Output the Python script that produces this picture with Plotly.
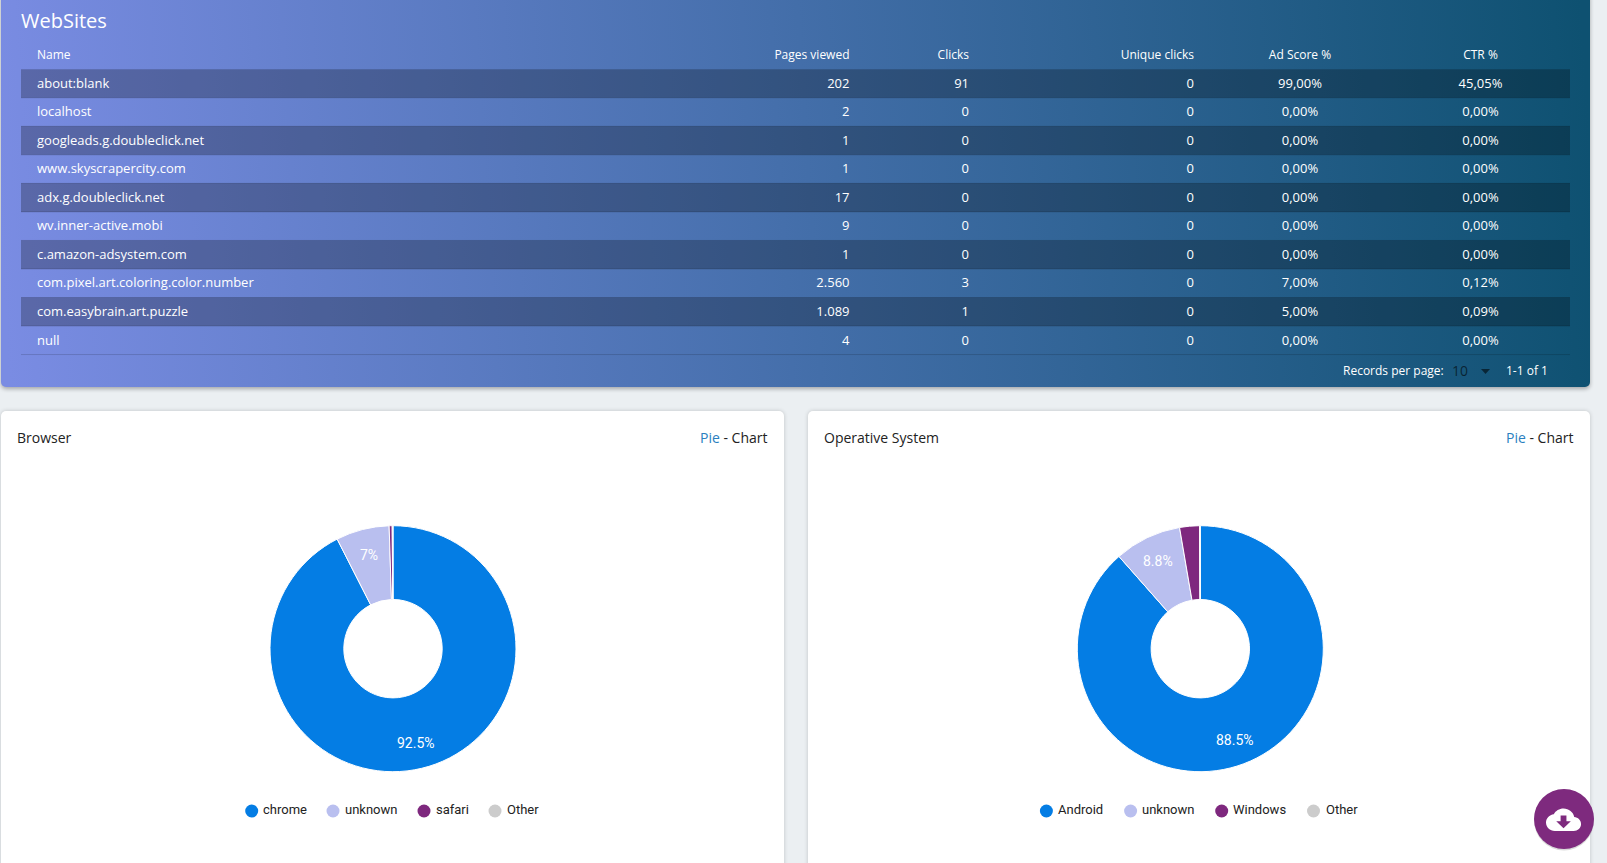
import base64
import math
import re
import plotly.graph_objects as go

# table data
site_names = ["about:blank", "localhost", "googleads.g.doubleclick.net", "www.skyscrapercity.com",
              "adx.g.doubleclick.net", "wv.inner-active.mobi", "c.amazon-adsystem.com",
              "com.pixel.art.coloring.color.number", "com.easybrain.art.puzzle", "null"]
pages_viewed = ["202", "2", "1", "1", "17", "9", "1", "2.560", "1.089", "4"]
clicks = ["91", "0", "0", "0", "0", "0", "0", "3", "1", "0"]
unique_clicks = ["0", "0", "0", "0", "0", "0", "0", "0", "0", "0"]
ad_score = ["99,00%", "0,00%", "0,00%", "0,00%", "0,00%", "0,00%", "0,00%", "7,00%", "5,00%", "0,00%"]
ctr = ["45,05%", "0,00%", "0,00%", "0,00%", "0,00%", "0,00%", "0,00%", "0,12%", "0,09%", "0,00%"]

# pie data
browser_labels = ["chrome", "unknown", "safari", "Other"]
browser_values = [92.5, 7, 0.4, 0.1]
os_labels = ["Android", "unknown", "Windows", "Other"]
os_values = [88.5, 8.8, 2.6, 0.1]
pie_colors = ["#047de4", "#b9bfef", "#7e287e", "#cccccc"]

W, H = 1607, 863
FONT = "Open Sans"
LEGEND_FONT = "Roboto"


def backdrop():
    # page background, gradient panel and the two white cards, with soft shadows
    svg = f"""<svg xmlns="http://www.w3.org/2000/svg" width="{W}" height="{H}" viewBox="0 0 {W} {H}">
<defs>
<linearGradient id="g" gradientUnits="userSpaceOnUse" x1="0" y1="240" x2="1590" y2="140">
<stop offset="0" stop-color="#7a8ce3"/><stop offset="1" stop-color="#0e5171"/>
</linearGradient>
<filter id="s" x="-5%" y="-5%" width="110%" height="110%"><feGaussianBlur stdDeviation="2"/></filter>
</defs>
<rect width="{W}" height="{H}" fill="#ebeff2"/>
<rect x="1" y="-6" width="1589" height="395" rx="5" fill="#000" opacity="0.3" filter="url(#s)"/>
<rect x="1" y="-6" width="1589" height="393" rx="5" fill="url(#g)"/>
<rect x="1" y="411" width="783" height="470" rx="5" fill="#000" opacity="0.18" filter="url(#s)"/>
<rect x="808" y="411" width="782" height="470" rx="5" fill="#000" opacity="0.18" filter="url(#s)"/>
<rect x="1" y="411" width="783" height="470" rx="5" fill="#fff"/>
<rect x="808" y="411" width="782" height="470" rx="5" fill="#fff"/>
</svg>"""
    return "data:image/svg+xml;base64," + base64.b64encode(svg.encode()).decode()


def icon_path(d, x0, y0, sx, sy):
    # scale an absolute path written in icon units to page pixels
    nums = iter(re.findall(r"[A-Za-z]|-?[\d.]+", d))
    out = []
    for tok in nums:
        if tok.isalpha():
            out.append(tok)
        else:
            out.append(f"{x0 + float(tok) * sx:.2f},{y0 + float(next(nums)) * sy:.2f}")
    return " ".join(out)


def pie_domain(cx, cy, r):
    return dict(x=[(cx - r) / W, (cx + r) / W], y=[1 - (cy + r) / H, 1 - (cy - r) / H])


fig = go.Figure()

# table, one text trace per column, header first
row_top = 69.25
row_h = 28.53
header_y = 56
row_y = [row_top + row_h * (i + 0.5) + 1 for i in range(len(site_names))]

columns = [
    ("Name", site_names, 37, "middle right"),
    ("Pages viewed", pages_viewed, 849.5, "middle left"),
    ("Clicks", clicks, 969, "middle left"),
    ("Unique clicks", unique_clicks, 1194, "middle left"),
    ("Ad Score %", ad_score, 1300, "middle center"),
    ("CTR %", ctr, 1480.5, "middle center"),
]
for header, values, x, pos in columns:
    fig.add_trace(go.Scatter(
        x=[x] * (len(values) + 1), y=[header_y] + row_y, text=[header] + values,
        mode="text", textposition=pos, hoverinfo="skip", showlegend=False,
        textfont=dict(family=FONT, color="white", size=[12] + [13] * len(values)),
    ))

shapes = []
for i in range(len(site_names)):
    top = row_top + row_h * i
    if i % 2 == 0:
        shapes.append(dict(type="rect", x0=21, x1=1570, y0=top, y1=top + row_h, xref="x", yref="y",
                           fillcolor="rgba(0,0,0,0.25)", line_width=0, layer="below"))
    shapes.append(dict(type="line", x0=21, x1=1570, y0=top + row_h, y1=top + row_h, xref="x", yref="y",
                       line=dict(color="rgba(0,0,0,0.15)", width=1), layer="below"))

# pies
pie_r = 123
pie_cy = 648.7
pies = [
    (browser_labels, browser_values, 393, [251.7, 333, 424, 495], [263, 345, 436, 507]),
    (os_labels, os_values, 1200.3, [1046.4, 1130.6, 1221.7, 1313.5], [1058, 1142, 1233, 1326]),
]
annotations = []
for labels, values, cx, marker_x, text_x in pies:
    fig.add_trace(go.Pie(
        labels=labels, values=values, hole=0.4, sort=False, direction="clockwise", rotation=0,
        domain=pie_domain(cx, pie_cy, pie_r), textinfo="none", hoverinfo="skip", showlegend=False,
        marker=dict(colors=pie_colors, line=dict(color="white", width=1)),
    ))
    # percent labels sit at about 80% of the radius, only on slices that are big enough
    total = sum(values)
    done = 0
    for v in values:
        angle = 2 * math.pi * (done + v / 2) / total
        done += v
        if v >= 5:
            annotations.append(dict(
                x=cx + 0.79 * pie_r * math.sin(angle), y=pie_cy - 0.79 * pie_r * math.cos(angle),
                text=f"{v:g}%", showarrow=False, xref="x", yref="y",
                font=dict(family=LEGEND_FONT, size=14, color="white"),
            ))
    # legend with round markers
    fig.add_trace(go.Scatter(
        x=marker_x, y=[811] * 4, mode="markers", hoverinfo="skip", showlegend=False,
        marker=dict(size=13, color=pie_colors, line_width=0),
    ))
    fig.add_trace(go.Scatter(
        x=text_x, y=[811] * 4, mode="text", text=labels, textposition="middle right",
        hoverinfo="skip", showlegend=False,
        textfont=dict(family=LEGEND_FONT, size=13, color="#222222"),
    ))


def label(x, y, text, anchor="left", size=14, color="white"):
    annotations.append(dict(x=x, y=y, text=text, xanchor=anchor, showarrow=False, xref="x", yref="y",
                            font=dict(family=FONT, size=size, color=color)))


label(19, 20, "WebSites", size=20)
label(1446, 370, "Records per page:", "right", 12)
label(1450, 370, "10", size=14, color="rgba(0,0,0,0.6)")
label(1504, 370, "1-1 of 1", size=12)
label(15, 437, "Browser", color="#222222")
label(821.5, 437, "Operative System", color="#222222")
pie_link = '<span style="color:#2b7fc0">Pie</span> - Chart'
label(770, 437, pie_link, "right", color="#222222")
label(1576, 437, pie_link, "right", color="#222222")

# records per page arrow
shapes.append(dict(type="path", path="M 1481,369 L 1490,369 L 1485.5,374 Z", fillcolor="rgba(0,0,0,0.55)", line_width=0))

# download button
fab_x, fab_y, fab_r = 1564, 819, 30
shapes.append(dict(type="circle", x0=fab_x - fab_r, x1=fab_x + fab_r, y0=fab_y - fab_r + 1.5, y1=fab_y + fab_r + 1.5,
                   fillcolor="rgba(0,0,0,0.15)", line_width=0))
shapes.append(dict(type="circle", x0=fab_x - fab_r, x1=fab_x + fab_r, y0=fab_y - fab_r, y1=fab_y + fab_r,
                   fillcolor="#7e2a7e", line_width=0))
cloud = ("M19.35 10.04 C18.67 6.59 15.64 4 12 4 C9.11 4 6.6 5.64 5.35 8.04 C2.34 8.36 0 10.91 0 14 "
         "C0 17.31 2.69 20 6 20 L19 20 C21.76 20 24 17.76 24 15 C24 12.36 21.95 10.22 19.35 10.04 Z")
arrow = "M17 13 L12 18 L7 13 L10 13 L10 9 L14 9 L14 13 Z"
shapes.append(dict(type="path", path=icon_path(cloud, 1546, 803, 1.46, 1.4), fillcolor="white", line_width=0))
shapes.append(dict(type="path", path=icon_path(arrow, 1546, 803, 1.46, 1.4), fillcolor="#7e2a7e", line_width=0))

fig.update_layout(
    width=W, height=H, margin=dict(l=0, r=0, t=0, b=0), showlegend=False, hovermode=False,
    paper_bgcolor="#ebeff2", plot_bgcolor="rgba(0,0,0,0)",
    xaxis=dict(range=[0, W], visible=False, fixedrange=True),
    yaxis=dict(range=[H, 0], visible=False, fixedrange=True),
    images=[dict(source=backdrop(), xref="paper", yref="paper", x=0, y=1, sizex=1, sizey=1,
                 xanchor="left", yanchor="top", sizing="stretch", layer="below")],
    shapes=shapes, annotations=annotations,
)

fig.write_html("out.html", config=dict(displayModeBar=False),
               post_script="document.body.style.margin='0';document.body.style.overflow='hidden';")
